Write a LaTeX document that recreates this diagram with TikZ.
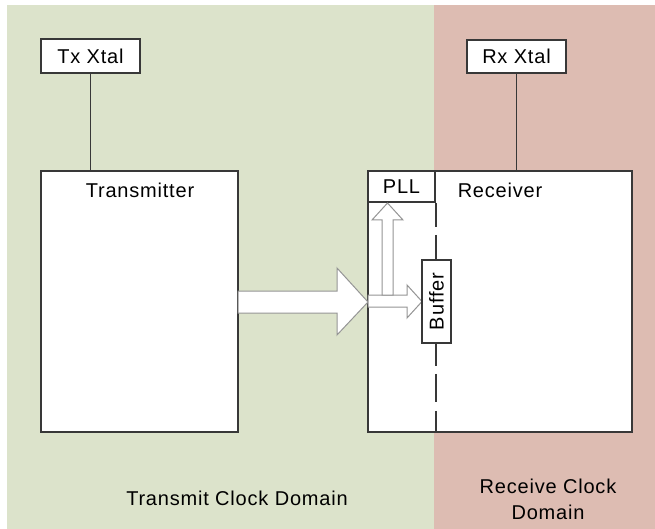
\documentclass[tikz,border=0pt]{standalone}
\usepackage{fontspec}
\setmainfont{Liberation Sans}[LetterSpace=4]
\usetikzlibrary{calc}
\definecolor{bggreen}{HTML}{DCE3CB}
\definecolor{bgred}{HTML}{DDBCB2}
\definecolor{edge}{HTML}{383838}
\definecolor{arrowedge}{HTML}{959595}
\tikzset{
  box/.style={draw=edge, line width=1.6pt, fill=white, inner sep=0pt},
  lbl/.style={font=\fontsize{20}{26}\selectfont, text=black, inner sep=0pt},
  conn/.style={draw=edge, line width=1.4pt},
  blockarrow/.style={draw=arrowedge, line width=1pt, fill=white, line join=miter},
  domline/.style={draw=edge, line width=1.7pt}
}
\begin{document}
\begin{tikzpicture}[x=1pt,y=-1pt]
\useasboundingbox (0,0) rectangle (655,529);
% backgrounds
\fill[bggreen] (7,5) rectangle (434,529);
\fill[bgred] (434,5) rectangle (655,529);
% crystal boxes
\node[box, minimum width=99pt, minimum height=34pt] (txx) at (90.5,56) {};
\node[lbl] at (txx) {Tx Xtal};
\node[box, minimum width=99pt, minimum height=33pt] (rxx) at (516.5,56.5) {};
\node[lbl] at (rxx) {Rx Xtal};
% main blocks
\node[box, minimum width=197pt, minimum height=261pt] (tx) at (139.5,301.5) {};
\node[lbl] (txl) at (140,190) {Transmitter};
\node[box, minimum width=264pt, minimum height=261pt] (rx) at (500,301.5) {};
\node[lbl] (rxl) at (500,190) {Receiver};
% crystal connectors
\draw[conn] (txx.south) -- (txx.south |- tx.north);
\draw[conn] (rxx.south) -- (rxx.south |- rx.north);
% big arrow
\draw[blockarrow] (238,291) -- (337,291) -- (337,268) -- (368,302) -- (337,335) -- (337,313) -- (238,313) -- cycle;
% PLL box
\node[box, minimum width=67pt, minimum height=31pt] (pll) at (401.5,186.5) {};
\node[lbl] at (pll) {PLL};
% small arrows
\draw[blockarrow] (368,295) -- (407,295) -- (407,285) -- (422,301.5) -- (407,318) -- (407,307) -- (368,307) -- cycle;
\draw[blockarrow] (382,295) -- (382,220) -- (372,220) -- (387.5,203) -- (403,220) -- (393,220) -- (393,295) -- cycle;
% buffer
\node[box, minimum width=29pt, minimum height=83pt] (buf) at (436.5,301.5) {};
\coordinate (dtop) at (pll.south east);
\coordinate (dbufT) at (dtop |- buf.north);
\coordinate (dbufB) at (dtop |- buf.south);
\coordinate (dbot) at (dtop |- rx.south);
\draw[domline, dash pattern=on 24pt off 8pt] (dtop) -- (dbufT);
\draw[domline, dash pattern=on 22pt off 8pt on 28pt off 9pt] (dbufB) -- (dbot);
\node[lbl, rotate=90] at (buf) {Buffer};
% domain labels
\node[lbl] (tcd) at (237,498) {Transmit Clock Domain};
\node[lbl, align=center] (rcd) at (548,499) {Receive Clock\\Domain};
\end{tikzpicture}
\end{document}
